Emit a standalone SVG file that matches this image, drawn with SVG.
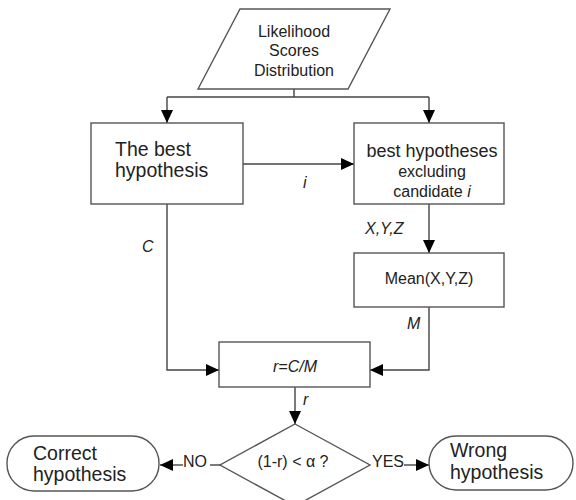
<svg xmlns="http://www.w3.org/2000/svg" width="576" height="500" viewBox="0 0 576 500">
<defs>
<marker id="ah" markerUnits="userSpaceOnUse" viewBox="0 0 13 12" refX="13" refY="6" markerWidth="13" markerHeight="12" orient="auto">
<path d="M0,0 L13,6 L0,12 Z" fill="#000"/>
</marker>
<style>
.shape{fill:#fff;stroke:#555;stroke-width:1.4}
.conn{fill:none;stroke:#444;stroke-width:1.4}
text{font-family:"Liberation Sans",Arial,sans-serif;fill:#222}
.t16{font-size:16px}
.t18{font-size:18px}
.t19{font-size:19.5px}
.it{font-style:italic}
.c{text-anchor:middle}
</style>
</defs>
<rect width="576" height="500" fill="#fff"/>
<g id="connectors">
<path class="conn" d="M294,89 V97 M167,97 H429"/>
<path class="conn" d="M167,97 V123" marker-end="url(#ah)"/>
<path class="conn" d="M429,97 V123" marker-end="url(#ah)"/>
<path class="conn" d="M243,164 H354" marker-end="url(#ah)"/>
<path class="conn" d="M429,204 V253" marker-end="url(#ah)"/>
<path class="conn" d="M167,204 V370 H219" marker-end="url(#ah)"/>
<path class="conn" d="M429,307 V370 H370" marker-end="url(#ah)"/>
<path class="conn" d="M295,387 V424" marker-end="url(#ah)"/>
<path class="conn" d="M220,465 H210"/>
<path class="conn" d="M183,465 H160" marker-end="url(#ah)"/>
<path class="conn" d="M404,465 H429" marker-end="url(#ah)"/>
<text class="t16 it" x="303" y="188">i</text>
<text class="t16 it" x="365" y="234">X,Y,Z</text>
<text class="t16 it" x="142" y="252">C</text>
<text class="t16 it" x="407" y="329">M</text>
<text class="t16 it" x="303" y="405">r</text>
<text class="t16" x="183" y="467">NO</text>
<text class="t16" x="372" y="467">YES</text>
</g>
<g id="input">
<polygon class="shape" points="240,9 390,9 348,89 198,89"/>
<text class="t16 c" x="294" y="37">Likelihood</text>
<text class="t16 c" x="294" y="56">Scores</text>
<text class="t16 c" x="294" y="76">Distribution</text>
</g>
<g id="best">
<rect class="shape" x="91" y="123" width="152" height="81"/>
<text class="t19" x="115" y="156">The best</text>
<text class="t19" x="115" y="177">hypothesis</text>
</g>
<g id="excluding">
<rect class="shape" x="354" y="123" width="150" height="81"/>
<text class="t18 c" x="432" y="157">best hypotheses</text>
<text class="t16 c" x="432" y="177">excluding</text>
<text class="t16 c" x="432" y="197">candidate <tspan class="it">i</tspan></text>
</g>
<g id="mean">
<rect class="shape" x="354" y="253" width="150" height="54"/>
<text class="t16 c" x="429" y="284">Mean(X,Y,Z)</text>
</g>
<g id="ratio">
<rect class="shape" x="219" y="342" width="151" height="45"/>
<text class="t16 it c" x="295" y="372">r=C/M</text>
</g>
<g id="decision">
<polygon class="shape" points="295,424 370,465 295,506 220,465"/>
<text class="t16 c" x="293" y="467">(1-r) &lt; α ?</text>
</g>
<g id="correct">
<rect class="shape" x="7" y="436" width="152" height="55" rx="27" ry="27"/>
<text class="t19" x="33" y="460">Correct</text>
<text class="t19" x="33" y="481">hypothesis</text>
</g>
<g id="wrong">
<rect class="shape" x="429" y="436" width="144" height="54" rx="27" ry="27"/>
<text class="t19" x="450" y="457">Wrong</text>
<text class="t19" x="450" y="479">hypothesis</text>
</g>
</svg>
